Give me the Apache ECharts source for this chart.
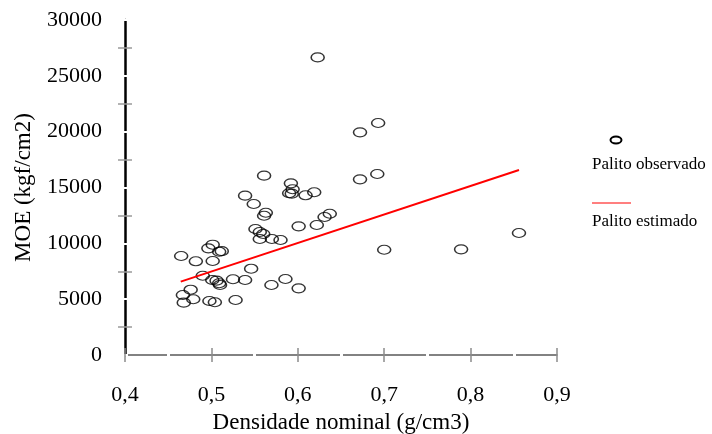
<!DOCTYPE html>
<html>
<head>
<meta charset="utf-8">
<script src="https://cdn.jsdelivr.net/npm/echarts@6/dist/echarts.min.js"></script>
<style>html,body{margin:0;padding:0;background:#fff}#c{width:712px;height:434px}</style>
</head>
<body>
<div id="c"></div>
<script>
// Observed points: density (g/cm3) and MOE (kgf/cm2)
const densidade = [0.623,0.693,0.672,0.561,0.672,0.692,0.592,0.594,0.590,0.593,0.609,0.619,0.539,0.549,0.563,0.561,0.637,0.631,0.601,0.622,0.551,0.556,0.560,0.556,0.570,0.580,0.700,0.789,0.856,0.546,0.5015,0.4965,0.509,0.512,0.465,0.482,0.5015,0.490,0.501,0.506,0.509,0.510,0.525,0.539,0.5695,0.5857,0.601,0.476,0.467,0.479,0.468,0.4977,0.504,0.528];
const moe = [26650,20780,19940,16060,15730,16210,15370,14840,14480,14450,14300,14570,14270,13520,12740,12470,12650,12360,11520,11640,11280,11010,10840,10390,10390,10300,9430,9460,10930,7730,9880,9550,9250,9300,8870,8390,8420,7100,6720,6660,6420,6270,6780,6720,6270,6810,5970,5850,5370,4990,4690,4840,4720,4930];
// Estimated line endpoints
const estX = [0.4645, 0.856];
const estY = [6570, 16570];
// Tick labels
const xTickValues = [0.4,0.5,0.6,0.7,0.8,0.9];
const xTickLabels = ['0,4','0,5','0,6','0,7','0,8','0,9'];
const yTickValues = [0,5000,10000,15000,20000,25000,30000];
const yTickLabels = ['0','5000','10000','15000','20000','25000','30000'];
const seriesNames = ['Palito observado','Palito estimado'];

const FONT = 'Liberation Serif';
const obs = densidade.map((d,i)=>[d, moe[i]]);
const est = estX.map((d,i)=>[d, estY[i]]);
function xl(v){const i=xTickValues.findIndex(t=>Math.abs(t-v)<1e-6);return i>=0?xTickLabels[i]:'';}
function yl(v){const i=yTickValues.indexOf(v);return i>=0?yTickLabels[i]:'';}

const gridBox = {left:125, right:155, top:20, bottom:79, containLabel:false, outerBoundsMode:'none'};
const chart = echarts.init(document.getElementById('c'), null, {renderer:'canvas'});
chart.setOption({
  animation:false,
  backgroundColor:'#fff',
  grid:[Object.assign({},gridBox), Object.assign({},gridBox)],
  xAxis:[{
    gridIndex:0, type:'value', min:0.4, max:0.9, interval:0.1,
    name:'Densidade nominal (g/cm3)', nameLocation:'middle', nameGap:56,
    nameTextStyle:{fontFamily:FONT, fontSize:23, color:'#000'},
    axisLine:{show:true, onZero:false, lineStyle:{color:'#595959', width:1.5}},
    axisTick:{show:true, length:7, lineStyle:{color:'#8c8c8c', width:1.5}},
    minorTick:{show:true, splitNumber:2, length:3, lineStyle:{color:'#fff', width:3}},
    axisLabel:{margin:29, fontFamily:FONT, fontSize:22, color:'#000', formatter:xl},
    splitLine:{show:false}
  },{
    gridIndex:1, type:'value', min:0.4, max:0.9, interval:0.1,
    axisLine:{show:false, onZero:false},
    axisTick:{show:true, inside:true, length:7, lineStyle:{color:'#8c8c8c', width:1.5}},
    minorTick:{show:true, splitNumber:2, length:3, lineStyle:{color:'#fff', width:3}},
    axisLabel:{show:false}, splitLine:{show:false}
  }],
  yAxis:[{
    gridIndex:0, type:'value', min:0, max:30000, interval:5000,
    name:'MOE (kgf/cm2)', nameLocation:'middle', nameGap:90,
    nameTextStyle:{fontFamily:FONT, fontSize:23, color:'#000'},
    axisLine:{show:true, onZero:false, lineStyle:{color:'#000', width:2.5}},
    axisTick:{show:true, length:3, lineStyle:{color:'#fff', width:2}},
    minorTick:{show:true, splitNumber:2, length:7, lineStyle:{color:'#9a9a9a', width:1.5}},
    axisLabel:{margin:23, fontFamily:FONT, fontSize:22, color:'#000', formatter:yl},
    splitLine:{show:false}
  },{
    gridIndex:1, type:'value', min:0, max:30000, interval:5000,
    axisLine:{show:false, onZero:false},
    axisTick:{show:true, inside:true, length:3, lineStyle:{color:'#fff', width:2}},
    minorTick:{show:true, splitNumber:2, length:7, lineStyle:{color:'#9a9a9a', width:1.5}},
    axisLabel:{show:false}, splitLine:{show:false}
  }],
  series:[{
    name:seriesNames[0], type:'scatter', xAxisIndex:0, yAxisIndex:0,
    data:obs, symbol:'circle', symbolSize:[13,9],
    itemStyle:{color:'rgba(255,255,255,0)', borderColor:'#000', borderWidth:1.3},
    silent:true
  },{
    name:seriesNames[1], type:'line', xAxisIndex:0, yAxisIndex:0,
    data:est, showSymbol:false, symbol:'none',
    lineStyle:{color:'#ff0000', width:2}, silent:true
  }],
  graphic:[
    {type:'ellipse', shape:{cx:616, cy:140, rx:5.5, ry:3.5}, style:{fill:'none', stroke:'#000', lineWidth:2}},
    {type:'text', left:592, top:156, style:{text:seriesNames[0], font:'17px "Liberation Serif"', fill:'#000'}},
    {type:'line', shape:{x1:592, y1:203, x2:631, y2:203}, style:{stroke:'#ff0000', lineWidth:1.2}},
    {type:'text', left:592, top:213, style:{text:seriesNames[1], font:'17px "Liberation Serif"', fill:'#000'}}
  ]
});
</script>
</body>
</html>
